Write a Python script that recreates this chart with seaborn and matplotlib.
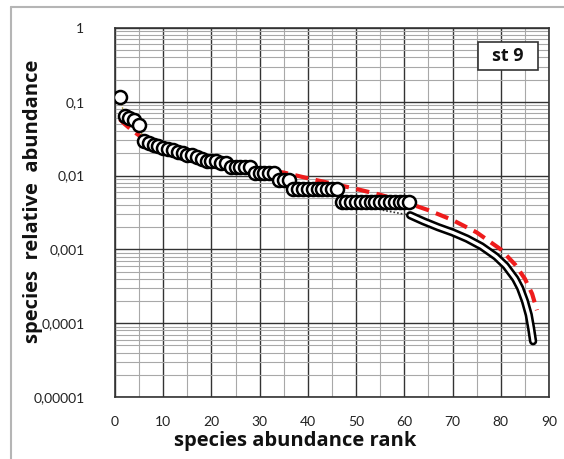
import matplotlib
matplotlib.use("Agg")
import matplotlib.pyplot as plt
from matplotlib.lines import Line2D
from matplotlib.patches import Rectangle
from matplotlib.ticker import FixedLocator, LogLocator, MultipleLocator, NullFormatter
import seaborn as sns
import pandas as pd

# observed species, ranked by abundance
rank = list(range(1, 62))
abundance = [
    0.115, 0.064, 0.060, 0.056, 0.049,
    0.029, 0.028, 0.026, 0.025, 0.024, 0.023, 0.022, 0.021, 0.020, 0.019,
    0.019, 0.018, 0.017, 0.016, 0.016, 0.016, 0.015, 0.015,
    0.013, 0.013, 0.013, 0.013, 0.013,
    0.011, 0.011, 0.011, 0.011, 0.011,
    0.0088, 0.0088, 0.0088,
    0.0066, 0.0066, 0.0066, 0.0066, 0.0066, 0.0066, 0.0066, 0.0066, 0.0066, 0.0066,
    0.0044, 0.0044, 0.0044, 0.0044, 0.0044, 0.0044, 0.0044, 0.0044, 0.0044, 0.0044,
    0.0044, 0.0044, 0.0044, 0.0044, 0.0044,
]

# extrapolated tail for unobserved species
tail_rank = [61.2, 64, 67, 70, 73, 76, 79, 81, 83, 84, 85, 85.8, 86.3, 86.7]
tail_val = [0.0029, 0.0024, 0.0020, 0.0017, 0.0014, 0.0011, 0.00080,
            0.00060, 0.00040, 0.00030, 0.00020, 0.00013, 0.000085, 0.000057]

# connector between last observation and the tail
bridge_rank = [55.5, 61.2]
bridge_val = [0.0034, 0.0029]

# model curve
model_rank = [1, 2, 3, 4, 5, 6, 10, 15, 20, 25, 30, 35, 40, 45, 50, 55, 60,
              65, 70, 75, 80, 83, 85, 86.5, 87.5]
model_val = [0.058, 0.050, 0.044, 0.039, 0.035, 0.031, 0.024, 0.019, 0.016,
             0.014, 0.012, 0.011, 0.0092, 0.0078, 0.0066, 0.0055, 0.0044,
             0.0034, 0.0025, 0.0017, 0.0010, 0.00062, 0.00040, 0.00025, 0.00015]

x_ticks = [0, 10, 20, 30, 40, 50, 60, 70, 80, 90]
y_ticks = [1e-5, 1e-4, 1e-3, 1e-2, 1e-1, 1]
y_tick_labels = ["0,00001", "0,0001", "0,001", "0,01", "0,1", "1"]

obs = pd.DataFrame({"rank": rank, "abundance": abundance})
tail = pd.DataFrame({"rank": tail_rank, "abundance": tail_val})
bridge = pd.DataFrame({"rank": bridge_rank, "abundance": bridge_val})
model = pd.DataFrame({"rank": model_rank, "abundance": model_val})

sns.set_theme(style="white")
plt.rcParams["font.family"] = ["Lato", "DejaVu Sans"]

W, H = 564, 459
fig = plt.figure(figsize=(W / 100, H / 100), dpi=100)
left, right, top, bottom = 115, 549, 28, 397
ax = fig.add_axes([left / W, 1 - bottom / H, (right - left) / W, (bottom - top) / H])

ax.set_yscale("log")
ax.set_xlim(0, 90)
ax.set_ylim(1e-5, 1)

# grid
ax.xaxis.set_major_locator(FixedLocator(x_ticks))
ax.xaxis.set_minor_locator(MultipleLocator(5))
ax.yaxis.set_major_locator(FixedLocator(y_ticks))
ax.yaxis.set_minor_locator(LogLocator(base=10, subs=[2, 3, 4, 5, 6, 7, 8, 9]))
ax.yaxis.set_minor_formatter(NullFormatter())
ax.set_yticklabels(y_tick_labels)
ax.grid(which="major", color="#333333", lw=1.0, zorder=0)
ax.grid(which="minor", color="#a8a8a8", lw=0.8, zorder=0)
ax.set_axisbelow(True)
for s in ax.spines.values():
    s.set_color("#333333")
    s.set_linewidth(1.2)

# model curve
sns.lineplot(data=model, x="rank", y="abundance", ax=ax, color="#ee1c1c",
             lw=3.0, dashes=False, zorder=3, sort=False)
ax.lines[-1].set_dashes((3.2, 1.8))

# tail: double line
sns.lineplot(data=tail, x="rank", y="abundance", ax=ax, color="black",
             lw=6.0, zorder=4, sort=False, solid_capstyle="round")
sns.lineplot(data=tail, x="rank", y="abundance", ax=ax, color="white",
             lw=2.3, zorder=5, sort=False, solid_capstyle="round")
sns.lineplot(data=bridge, x="rank", y="abundance", ax=ax, color="#333333",
             lw=1.2, zorder=4, sort=False, linestyle=(0, (1, 1.2)))

# observed species
sns.lineplot(data=obs, x="rank", y="abundance", ax=ax, color="#9a8a20",
             lw=1.0, zorder=5, sort=False, linestyle=(0, (1, 1.5)))
sns.scatterplot(data=obs, x="rank", y="abundance", ax=ax, s=88,
                facecolor="white", edgecolor="black", linewidth=1.8,
                zorder=6)

ax.tick_params(axis="both", which="both", length=0, labelsize=10,
               labelcolor="#222222")
ax.tick_params(axis="y", pad=22)
ax.tick_params(axis="x", pad=14)

label_font = dict(fontsize=14.5, fontweight="bold", color="#111111",
                  family=["Open Sans", "DejaVu Sans"])
ax.set_xlabel("species abundance rank", **label_font)
ax.set_ylabel("species  relative  abundance", **label_font)
ax.xaxis.label.set_va("center")
ax.yaxis.label.set_va("center")
ax.xaxis.set_label_coords((295 - left) / (right - left), (bottom - 441) / (bottom - top))
ax.yaxis.set_label_coords((33 - left) / (right - left), (bottom - 201) / (bottom - top))

# station label
box = Rectangle(((478 - left) / (right - left), (bottom - 70) / (bottom - top)),
                60 / (right - left), 28 / (bottom - top), transform=ax.transAxes,
                facecolor="white", edgecolor="#333333", lw=1.2, zorder=10)
ax.add_patch(box)
ax.text((508 - left) / (right - left), (bottom - 56) / (bottom - top), "st 9",
        transform=ax.transAxes, ha="center", va="center", zorder=11,
        fontsize=13, fontweight="bold", color="#111111",
        family=["Open Sans", "DejaVu Sans"])

# chart frame
fx = 11 / W
fy = 1 - 7 / H
fig.add_artist(Line2D([fx, fx], [0, fy], transform=fig.transFigure,
                      color="#b5b5b5", lw=1.5))
fig.add_artist(Line2D([fx, 1], [fy, fy], transform=fig.transFigure,
                      color="#b5b5b5", lw=1.5))

fig.savefig("out.png", dpi=100)
